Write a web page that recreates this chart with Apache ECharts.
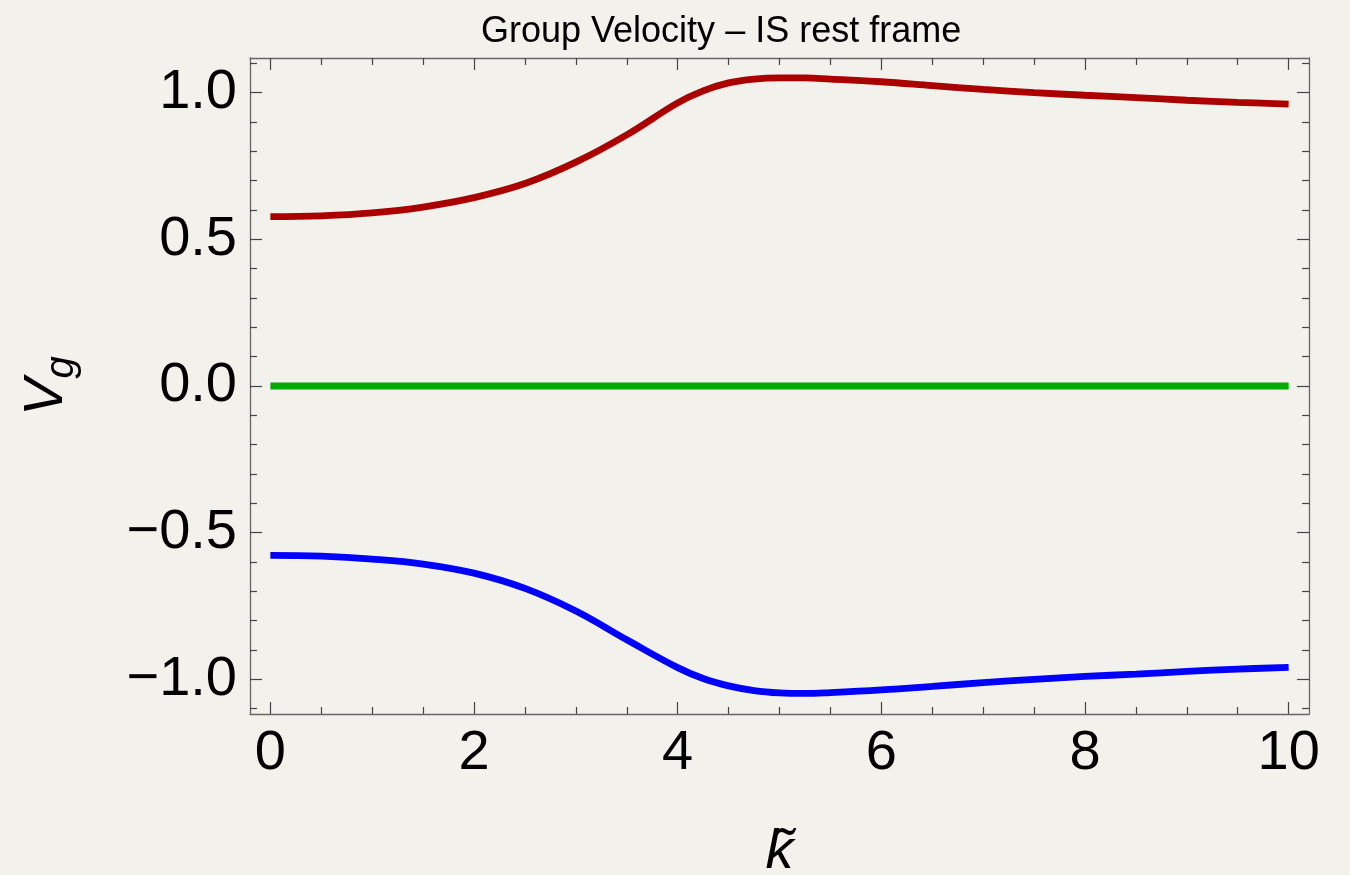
<!DOCTYPE html>
<html>
<head>
<meta charset="utf-8">
<script src="https://cdn.jsdelivr.net/npm/echarts@6/dist/echarts.min.js"></script>
<style>
html,body{margin:0;padding:0;background:#f3f1ec;}
#chart{width:1350px;height:875px;}
</style>
</head>
<body>
<div id="chart"></div>
<script>
const kValues = [0, 0.5, 1, 1.5, 2, 2.5, 3, 3.5, 4, 4.25, 4.5, 4.75, 5, 5.25, 5.5, 6, 6.5, 7, 7.5, 8, 8.5, 9, 9.5, 10];
const redValues = [0.577, 0.580, 0.590, 0.610, 0.642, 0.690, 0.763, 0.856, 0.965, 1.006, 1.033, 1.046, 1.050, 1.050, 1.046, 1.037, 1.024, 1.011, 1.000, 0.991, 0.983, 0.974, 0.967, 0.961];
const blueValues = [-0.577, -0.580, -0.590, -0.607, -0.638, -0.690, -0.767, -0.865, -0.960, -0.997, -1.022, -1.038, -1.046, -1.048, -1.045, -1.036, -1.024, -1.011, -1.000, -0.990, -0.982, -0.973, -0.965, -0.959];
const greenValues = [0, 0];
const greenK = [0, 10];
const xMajorTicks = [0, 2, 4, 6, 8, 10];
const xMinorTicks = [0.5, 1, 1.5, 2.5, 3, 3.5, 4.5, 5, 5.5, 6.5, 7, 7.5, 8.5, 9, 9.5];
const yMajorTicks = [-1, -0.5, 0, 0.5, 1];
const yMinorTicks = [-1.1, -0.9, -0.8, -0.7, -0.6, -0.4, -0.3, -0.2, -0.1, 0.1, 0.2, 0.3, 0.4, 0.6, 0.7, 0.8, 0.9, 1.1];
const titleText = 'Group Velocity \u2013 IS rest frame';

const FONT = 'Liberation Sans, Arial, Helvetica, sans-serif';
const lineCol = '#666666';
const tickCol = '#444444';

function xAx(pos, ticks, len, showLine, showLabel) {
  return {
    type: 'value', position: pos, min: -0.2, max: 10.2,
    splitLine: {show: false},
    axisLine: {show: showLine, onZero: false, lineStyle: {color: lineCol, width: 1.3}},
    axisTick: {show: true, inside: true, length: len, customValues: ticks, lineStyle: {color: tickCol, width: 1.2}},
    axisLabel: {show: showLabel, customValues: xMajorTicks, margin: 12, color: '#000', fontSize: 56, fontFamily: FONT,
      formatter: v => String(v)}
  };
}
function yAx(pos, ticks, len, showLine, showLabel) {
  return {
    type: 'value', position: pos, min: -1.118, max: 1.118,
    splitLine: {show: false},
    axisLine: {show: showLine, onZero: false, lineStyle: {color: lineCol, width: 1.3}},
    axisTick: {show: true, inside: true, length: len, customValues: ticks, lineStyle: {color: tickCol, width: 1.2}},
    axisLabel: {show: showLabel, customValues: yMajorTicks, margin: 13, color: '#000', fontSize: 56, fontFamily: FONT,
      formatter: v => (v < 0 ? '\u2212' + Math.abs(v).toFixed(1) : v.toFixed(1))}
  };
}

const xAxes = [xAx('bottom', xMajorTicks, 12, true, true), xAx('bottom', xMinorTicks, 7, false, false),
  xAx('top', xMajorTicks, 12, true, false), xAx('top', xMinorTicks, 7, false, false)];
xAxes[0].name = 'k\u0303';
xAxes[0].nameLocation = 'middle';
xAxes[0].nameGap = 110;
xAxes[0].nameTextStyle = {fontSize: 56, fontStyle: 'italic', fontFamily: FONT, color: '#000'};

const yAxes = [yAx('left', yMajorTicks, 12, true, true), yAx('left', yMinorTicks, 7, false, false),
  yAx('right', yMajorTicks, 12, true, false), yAx('right', yMinorTicks, 7, false, false)];
yAxes[0].name = '{v|V}{g|g}';
yAxes[0].nameLocation = 'middle';
yAxes[0].nameRotate = 90;
yAxes[0].nameGap = 172;
yAxes[0].nameTextStyle = {
  color: '#000', fontFamily: FONT,
  rich: {
    v: {fontSize: 56, fontStyle: 'italic', fontFamily: FONT, color: '#000', lineHeight: 60, verticalAlign: 'top'},
    g: {fontSize: 40, fontStyle: 'italic', fontFamily: FONT, color: '#000', lineHeight: 60, padding: [24, 0, 0, 0], verticalAlign: 'top'}
  }
};

const chart = echarts.init(document.getElementById('chart'), null, {renderer: 'canvas'});
chart.setOption({
  backgroundColor: '#f3f1ec',
  animation: false,
  title: {
    text: titleText, left: 476, top: 9,
    textStyle: {fontSize: 36, fontWeight: 'normal', fontFamily: FONT, color: '#000'}
  },
  grid: {left: 250, right: 41, top: 58, bottom: 161, containLabel: false, outerBoundsMode: 'none'},
  xAxis: xAxes,
  yAxis: yAxes,
  series: [
    {type: 'line', name: 'red', xAxisIndex: 0, yAxisIndex: 0, smooth: 0.4, showSymbol: false,
      lineStyle: {color: '#aa0000', width: 6.8}, data: kValues.map((k, i) => [k, redValues[i]])},
    {type: 'line', name: 'green', xAxisIndex: 0, yAxisIndex: 0, showSymbol: false,
      lineStyle: {color: '#00aa00', width: 6.8}, data: greenK.map((k, i) => [k, greenValues[i]])},
    {type: 'line', name: 'blue', xAxisIndex: 0, yAxisIndex: 0, smooth: 0.4, showSymbol: false,
      lineStyle: {color: '#0000ff', width: 6.8}, data: kValues.map((k, i) => [k, blueValues[i]])}
  ]
});
</script>
</body>
</html>
